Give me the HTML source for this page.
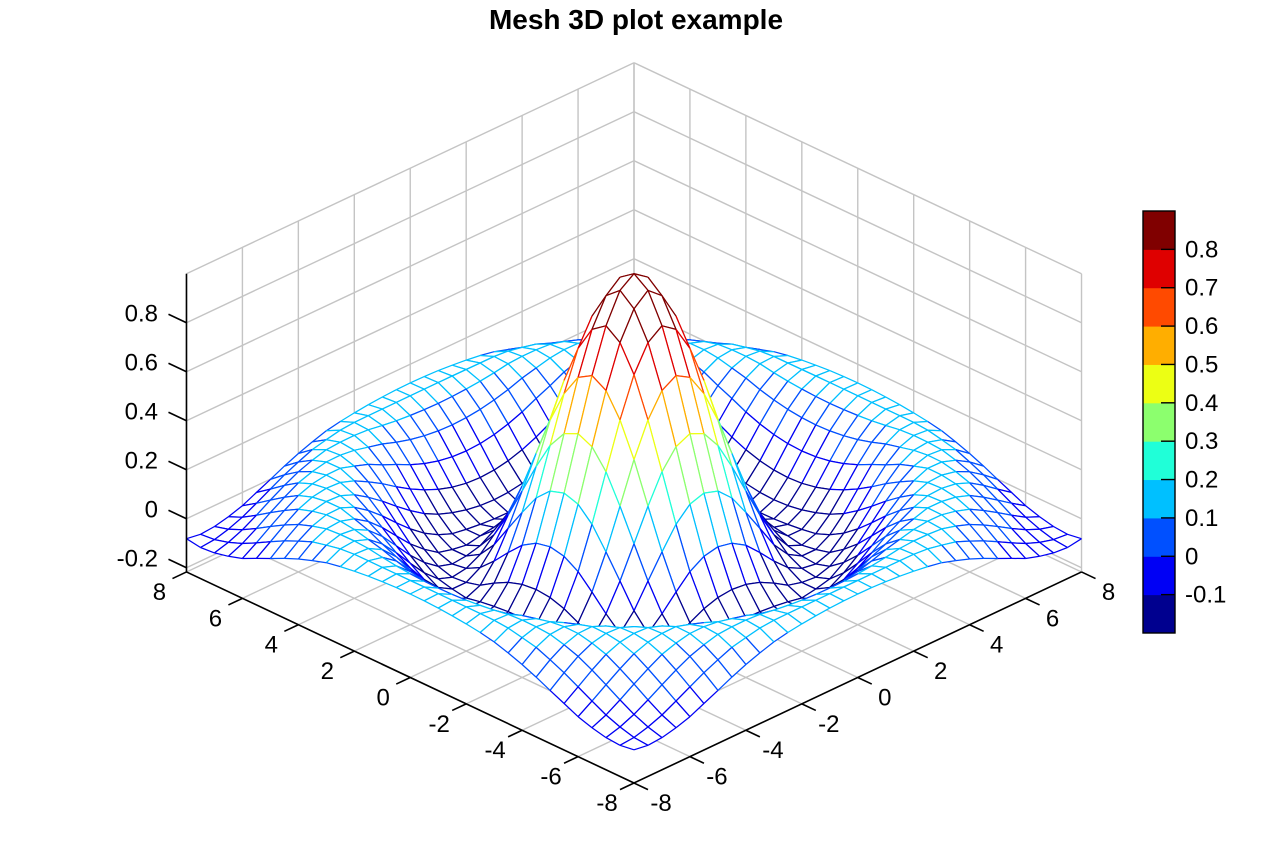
<!DOCTYPE html>
<html><head><meta charset="utf-8"><style>
html,body{margin:0;padding:0;background:#fff;}
svg{display:block;font-family:"Liberation Sans",Arial,sans-serif;}
</style></head><body>
<svg id="chart" width="1270" height="845" viewBox="0 0 1270 845" xmlns="http://www.w3.org/2000/svg">
<rect width="1270" height="845" fill="#fff"/>
<text x="636" y="29" text-anchor="middle" font-size="28" font-weight="bold">Mesh 3D plot example</text>
<g id="grid"></g>
<g id="mesh"></g>
<g id="axes"></g>
<g id="cbar"></g>
</svg>
<script>
// radial profile of the surface: radius samples and height values
const radii = [0,0.5,1,1.5,2,2.5,3,3.5,4,4.5,5,5.5,6,6.5,7,7.5,8,8.5,9,9.5,10,10.5,11,11.5,12];
const zProfile = [1,0.9589,0.8415,0.665,0.4546,0.2394,0.047,-0.1002,-0.1892,-0.2172,-0.1918,-0.1283,-0.0466,0.0331,0.0939,0.125,0.1237,0.0939,0.0458,-0.0079,-0.0544,-0.0837,-0.0909,-0.0761,-0.0447];
const gridVals = [-8,-7.5,-7,-6.5,-6,-5.5,-5,-4.5,-4,-3.5,-3,-2.5,-2,-1.5,-1,-0.5,0,0.5,1,1.5,2,2.5,3,3.5,4,4.5,5,5.5,6,6.5,7,7.5,8];
const xyTicks = [-8,-6,-4,-2,0,2,4,6,8];
const zTicks = [-0.2,0,0.2,0.4,0.6,0.8];
const zTickLabels = ["-0.2","0","0.2","0.4","0.6","0.8"];
const cbarTicks = [-0.1,0,0.1,0.2,0.3,0.4,0.5,0.6,0.7,0.8];
const cbarColors = ["#00008f","#0000f5","#0050ff","#00c0ff","#20ffd8","#8cff6e","#ecff14","#ffae00","#ff4a00","#df0000","#800000"];
const cbarMin = -0.2, cbarMax = 0.9;
const zMin = -0.2172, zMax = 1;

const NS="http://www.w3.org/2000/svg";
const CX=634, CY=783, KX=27.97, KY=13.19, KZ=245;
function px(x,y){return CX+((x+8)-(y+8))*KX;}
function py(x,y,z){return CY-((x+8)+(y+8))*KY-(z-zMin)*KZ;}
function zAt(x,y){
  const r=Math.sqrt(x*x+y*y);
  let i=Math.min(Math.floor(r/0.5),radii.length-2);
  const t=(r-radii[i])/(radii[i+1]-radii[i]);
  return zProfile[i]*(1-t)+zProfile[i+1]*t;
}
function colorOf(z){
  let i=Math.floor((z-cbarMin)/(cbarMax-cbarMin)*cbarColors.length);
  i=Math.max(0,Math.min(cbarColors.length-1,i));
  return cbarColors[i];
}
function line(g,x1,y1,x2,y2,c,w){
  const l=document.createElementNS(NS,'line');
  l.setAttribute('x1',x1);l.setAttribute('y1',y1);l.setAttribute('x2',x2);l.setAttribute('y2',y2);
  l.setAttribute('stroke',c);l.setAttribute('stroke-width',w);
  g.appendChild(l);return l;
}
function text(g,x,y,s,anchor,name){
  const t=document.createElementNS(NS,'text');
  t.setAttribute('x',x);t.setAttribute('y',y);t.setAttribute('text-anchor',anchor);
  t.setAttribute('font-size','24');t.textContent=s;
  
  
  g.appendChild(t);return t;
}
const G=document.getElementById('grid'), GC='#c4c4c4';
xyTicks.forEach(v=>{
  let l;
  l=line(G,px(v,8),py(v,8,zMin),px(v,8),py(v,8,zMax),GC,1.4);
  
  
  l=line(G,px(8,v),py(8,v,zMin),px(8,v),py(8,v,zMax),GC,1.4);
  
  
  l=line(G,px(v,-8),py(v,-8,zMin),px(v,8),py(v,8,zMin),GC,1.4);
  
  
  l=line(G,px(-8,v),py(-8,v,zMin),px(8,v),py(8,v,zMin),GC,1.4);
  
  
});
zTicks.concat([zMax]).forEach(z=>{
  let l=line(G,px(-8,8),py(-8,8,z),px(8,8),py(8,8,z),GC,1.4);
  
  
  l=line(G,px(8,8),py(8,8,z),px(8,-8),py(8,-8,z),GC,1.4);
  
  
});
const M=document.getElementById('mesh');
const n=gridVals.length;
const Z=[];
for(let i=0;i<n;i++){Z.push([]);for(let j=0;j<n;j++)Z[i].push(zAt(gridVals[i],gridVals[j]));}
const quads=[];
for(let i=0;i<n-1;i++)for(let j=0;j<n-1;j++)quads.push([i,j,gridVals[i]+gridVals[j]]);
quads.sort((a,b)=>b[2]-a[2]);
quads.forEach(([i,j])=>{
  const pts=[[i,j],[i+1,j],[i+1,j+1],[i,j+1]];
  const P=pts.map(([a,b])=>[px(gridVals[a],gridVals[b]),py(gridVals[a],gridVals[b],Z[a][b]),Z[a][b]]);
  const g=document.createElementNS(NS,'g');
  
  
  const poly=document.createElementNS(NS,'polygon');
  poly.setAttribute('points',P.map(p=>p[0].toFixed(1)+','+p[1].toFixed(1)).join(' '));
  poly.setAttribute('fill','#fff');
  g.appendChild(poly);
  for(let k=0;k<4;k++){
    const a=P[k],b=P[(k+1)%4];
    line(g,a[0].toFixed(1),a[1].toFixed(1),b[0].toFixed(1),b[1].toFixed(1),colorOf((a[2]+b[2])/2),1.25);
  }
  M.appendChild(g);
});
const A=document.getElementById('axes');
let al=line(A,px(-8,8),py(-8,8,zMin),px(-8,8),py(-8,8,zMax),'#000',1.6);


al=line(A,px(-8,8),py(-8,8,zMin),px(-8,-8),py(-8,-8,zMin),'#000',1.6);


al=line(A,px(-8,-8),py(-8,-8,zMin),px(8,-8),py(8,-8,zMin),'#000',1.6);


xyTicks.forEach(v=>{
  let x0=px(-8,v),y0=py(-8,v,zMin);
  let t=line(A,x0,y0,x0-14,y0+6.6,'#000',1.6);
  
  
  text(A,x0-27,y0+28,String(v),'middle','y-tick-label');
  x0=px(v,-8);y0=py(v,-8,zMin);
  t=line(A,x0,y0,x0+14,y0+6.6,'#000',1.6);
  
  
  text(A,x0+27,y0+28,String(v),'middle','x-tick-label');
});
zTicks.forEach((z,k)=>{
  const x0=px(-8,8),y0=py(-8,8,z);
  const t=line(A,x0,y0,x0-18,y0-8.5,'#000',1.6);
  
  
  text(A,158,y0-1,zTickLabels[k],'end','z-tick-label');
});
const C=document.getElementById('cbar');
const cbTop=211, cbBot=633, cbL=1143, cbR=1175;
const bh=(cbBot-cbTop)/cbarColors.length;
cbarColors.forEach((c,k)=>{
  const r=document.createElementNS(NS,'rect');
  r.setAttribute('x',cbL);r.setAttribute('y',cbBot-(k+1)*bh);r.setAttribute('width',cbR-cbL);r.setAttribute('height',bh+0.5);
  r.setAttribute('fill',c);
  
  
  C.appendChild(r);
});
const fr=document.createElementNS(NS,'rect');
fr.setAttribute('x',cbL);fr.setAttribute('y',cbTop);fr.setAttribute('width',cbR-cbL);fr.setAttribute('height',cbBot-cbTop);
fr.setAttribute('fill','none');fr.setAttribute('stroke','#000');fr.setAttribute('stroke-width','1.4');


C.appendChild(fr);
cbarTicks.forEach(v=>{
  const y=cbBot-(v-cbarMin)/(cbarMax-cbarMin)*(cbBot-cbTop);
  const t=line(C,cbR-14,y,cbR,y,'#000',1.4);
  
  
  text(C,1185,y+8,String(v),'start','colorbar-tick-label');
});
</script>
</body></html>
